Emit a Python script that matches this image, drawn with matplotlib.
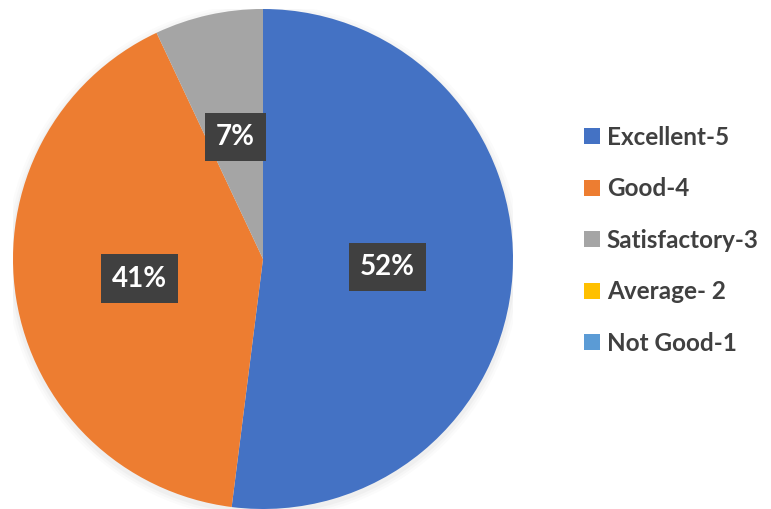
import matplotlib.pyplot as plt
from matplotlib.patches import Patch

# survey ratings
categories = ['Excellent-5', 'Good-4', 'Satisfactory-3', 'Average- 2', 'Not Good-1']
shares = [52, 41, 7, 0, 0]
colors = ['#4472C4', '#ED7D31', '#A5A5A5', '#FFC000', '#5B9BD5']

plt.rcParams['font.family'] = ['Lato', 'DejaVu Sans']

fig = plt.figure(figsize=(7.71, 5.09), dpi=100)
fig.patch.set_facecolor('white')
ax = fig.add_axes([13 / 771, 0, 500 / 771, 500 / 509])


def pct_label(p):
    return f'{p:.0f}%' if p > 0.5 else ''


# soft shadow behind the pie
for r, a in [(1.03, 0.03), (1.02, 0.04), (1.01, 0.05)]:
    ax.add_patch(plt.Circle((0.0, -0.01), r, color='#808080', alpha=a, lw=0, zorder=0))

wedges, texts, autotexts = ax.pie(
    shares, colors=colors, startangle=90, counterclock=False,
    autopct=pct_label, pctdistance=0.5,
    wedgeprops=dict(linewidth=0),
    textprops=dict(color='white', fontsize=20, fontweight='bold'))

for t in autotexts:
    if t.get_text():
        t.set_bbox(dict(boxstyle='square,pad=0.4', facecolor='#404040', edgecolor='none'))

ax.set_xlim(-1, 1)
ax.set_ylim(-1, 1)
ax.set_aspect('equal')

handles = [Patch(facecolor=c, edgecolor='none') for c in colors]
leg = fig.legend(handles, categories, loc='upper left',
                 bbox_to_anchor=(562 / 771, 1 - 104 / 509),
                 frameon=False, handlelength=0.65, handleheight=0.65,
                 handletextpad=0.3, labelspacing=1.17,
                 prop=dict(family='Lato', weight='bold', size=17.5))
for t in leg.get_texts():
    t.set_color('#404040')

plt.savefig('out.png', dpi=100)
